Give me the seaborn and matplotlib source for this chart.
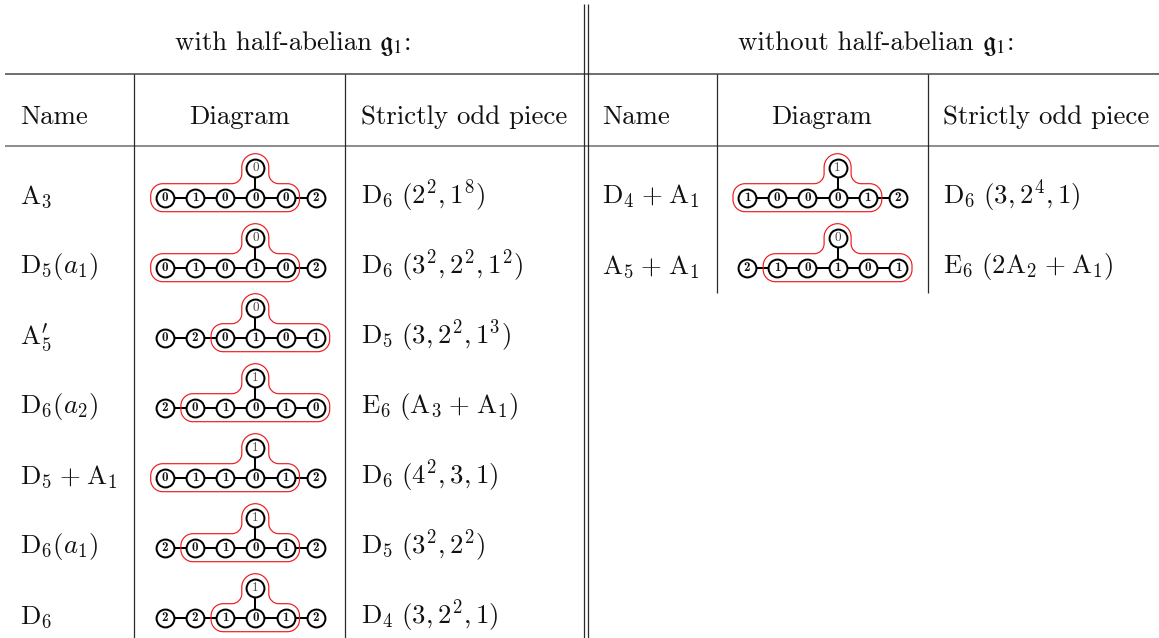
import matplotlib
matplotlib.use("Agg")
import matplotlib.pyplot as plt
from matplotlib.path import Path
from matplotlib.patches import PathPatch
import pandas as pd
import seaborn as sns

# ---- table content ----
header_left = "with half-abelian"
header_right = "without half-abelian"
col_titles = ["Name", "Diagram", "Strictly odd piece"]

names_left = [r"$\mathrm{A}_3$", r"$\mathrm{D}_5(a_1)$", r"$\mathrm{A}_5^{\prime}$", r"$\mathrm{D}_6(a_2)$",
              r"$\mathrm{D}_5\;\mathrm{+}\;\mathrm{A}_1$", r"$\mathrm{D}_6(a_1)$", r"$\mathrm{D}_6$"]
pieces_left = [r"$\mathrm{D}_6\ (2^2,1^8)$", r"$\mathrm{D}_6\ (3^2,2^2,1^2)$", r"$\mathrm{D}_5\ (3,2^2,1^3)$",
               r"$\mathrm{E}_6\ (\mathrm{A}_3\;\mathrm{+}\;\mathrm{A}_1)$", r"$\mathrm{D}_6\ (4^2,3,1)$",
               r"$\mathrm{D}_5\ (3^2,2^2)$", r"$\mathrm{D}_4\ (3,2^2,1)$"]
chain_left = [[0, 1, 0, 0, 0, 2], [0, 1, 0, 1, 0, 2], [0, 2, 0, 1, 0, 1], [2, 0, 1, 0, 1, 0],
              [0, 1, 1, 0, 1, 2], [2, 0, 1, 0, 1, 2], [2, 2, 1, 0, 1, 2]]
top_left = [0, 0, 0, 1, 1, 1, 1]
loop_left = [(0, 4), (0, 4), (2, 5), (1, 5), (0, 4), (1, 4), (2, 4)]

names_right = [r"$\mathrm{D}_4\;\mathrm{+}\;\mathrm{A}_1$", r"$\mathrm{A}_5\;\mathrm{+}\;\mathrm{A}_1$"]
pieces_right = [r"$\mathrm{D}_6\ (3,2^4,1)$", r"$\mathrm{E}_6\ (2\mathrm{A}_2\;\mathrm{+}\;\mathrm{A}_1)$"]
chain_right = [[1, 0, 0, 0, 1, 2], [2, 1, 0, 1, 0, 1]]
top_right = [1, 0]
loop_right = [(0, 4), (1, 5)]

sns.set_theme(style="white")
plt.rcParams["font.family"] = ["cmr10", "DejaVu Sans"]
plt.rcParams["mathtext.fontset"] = "cm"
plt.rcParams["axes.formatter.use_mathtext"] = True

fig = plt.figure(figsize=(11.59, 6.38), dpi=100)
ax = fig.add_axes([0, 0, 1, 1])
ax.set_xlim(0, 1159)
ax.set_ylim(638, 0)
ax.axis("off")

FS = 19.3
ROW0, PITCH, RISE, STEP = 197.7, 70.0, 30.0, 30.2
HGRAY, VDARK = "#6e6e6e", "#2a2a2a"
INK = "#111111"

# rules
ax.hlines([74], 5, 1159, color=HGRAY, lw=1.4)
ax.hlines([145.5], 5, 1159, color=HGRAY, lw=1.1)
ax.vlines([134, 345], 74, 638, color=VDARK, lw=0.9)
ax.vlines([717, 928], 74, 293, color=VDARK, lw=0.9)
ax.vlines([584, 588], 4, 638, color=VDARK, lw=0.9)

# headers
def header(x0, xg, label):
    ax.text(x0, 49.5, label, fontsize=FS, ha="left", va="baseline", color=INK)
    ax.text(xg, 49.5, r"$\mathfrak{g}_1$:", fontsize=FS, ha="left", va="baseline",
            math_fontfamily="stix", color=INK)

header(175, 379, header_left)
header(738, 982, header_right)

for x0, cx, xs in [(20.5, 240, 361), (602.5, 822, 943)]:
    ax.text(x0, 124, col_titles[0], fontsize=FS, ha="left", va="baseline", color=INK)
    ax.text(cx, 124, col_titles[1], fontsize=FS, ha="center", va="baseline", color=INK)
    ax.text(xs, 124, col_titles[2], fontsize=FS, ha="left", va="baseline", color=INK)


def loop_path(xl, xr, xt, ym, ytop):
    hw, cap, fil, rnd = 14.0, 13.5, 10.0, 12.0
    yt, yb, yc = ym - hw, ym + hw, ytop - hw
    corners = [(xl, yt, rnd), (xt - cap, yt, fil), (xt - cap, yc, cap), (xt + cap, yc, cap),
               (xt + cap, yt, fil), (xr, yt, rnd), (xr, yb, rnd), (xl, yb, rnd)]
    verts, codes = [], []
    n = len(corners)
    k = 0.5523
    for i, (x, y, r) in enumerate(corners):
        px, py, _ = corners[i - 1]
        nx, ny, _ = corners[(i + 1) % n]
        d1 = ((x - px) / max(abs(x - px), abs(y - py)), (y - py) / max(abs(x - px), abs(y - py)))
        d2 = ((nx - x) / max(abs(nx - x), abs(ny - y)), (ny - y) / max(abs(nx - x), abs(ny - y)))
        a = (x - d1[0] * r, y - d1[1] * r)
        b = (x + d2[0] * r, y + d2[1] * r)
        verts.append(a)
        codes.append(Path.MOVETO if i == 0 else Path.LINETO)
        verts += [(a[0] + d1[0] * r * k, a[1] + d1[1] * r * k),
                  (b[0] - d2[0] * r * k, b[1] - d2[1] * r * k), b]
        codes += [Path.CURVE4] * 3
    verts.append(verts[0])
    codes.append(Path.CLOSEPOLY)
    return Path(verts, codes)


nodes, bonds = [], []
loops = []
for x_first, chains, tops, spans in [(164.7, chain_left, top_left, loop_left),
                                     (747.0, chain_right, top_right, loop_right)]:
    for r, (chain, top, span) in enumerate(zip(chains, tops, spans)):
        ym = ROW0 + PITCH * r
        xt = x_first + 3 * STEP
        for j, v in enumerate(chain):
            x = x_first + j * STEP
            nodes.append(dict(x=x, y=ym, value=v, top=False))
            if j:
                b = f"{x_first}-{r}-{j}"
                bonds += [dict(x=x - STEP, y=ym, bond=b), dict(x=x, y=ym, bond=b)]
        nodes.append(dict(x=xt, y=ym - RISE, value=top, top=True))
        b = f"{x_first}-{r}-t"
        bonds += [dict(x=xt, y=ym, bond=b), dict(x=xt, y=ym - RISE, bond=b)]
        loops.append(loop_path(x_first + span[0] * STEP - 14, x_first + span[1] * STEP + 14, xt, ym, ym - RISE))

df_nodes = pd.DataFrame(nodes)
df_bonds = pd.DataFrame(bonds)

sns.lineplot(data=df_bonds, x="x", y="y", units="bond", estimator=None, sort=False,
             color="black", lw=1.45, legend=False, ax=ax, zorder=2)
sns.scatterplot(data=df_nodes, x="x", y="y", s=165, facecolor="white", edgecolor="black",
                linewidth=1.45, legend=False, ax=ax, zorder=3)
ax.set_xlabel("")
ax.set_ylabel("")
for p in loops:
    ax.add_patch(PathPatch(p, fill=False, edgecolor="#f01a1a", lw=0.85, zorder=2.5))

for row in df_nodes.itertuples():
    if row.top:
        ax.text(row.x, row.y + 0.2, str(row.value), fontsize=9.5, family="cmr10", color="#444444",
                ha="center", va="center", zorder=4)
    else:
        ax.text(row.x, row.y + 0.2, str(row.value), fontsize=9.5, family="cmb10", color="#111111",
                ha="center", va="center", zorder=4)

for x_name, x_piece, names, pieces in [(20.5, 361, names_left, pieces_left), (602.5, 943, names_right, pieces_right)]:
    for r, (nm, pc) in enumerate(zip(names, pieces)):
        y = ROW0 + 5.8 + PITCH * r
        ax.text(x_name, y, nm, fontsize=FS, ha="left", va="baseline", color=INK)
        ax.text(x_piece, y, pc, fontsize=FS, ha="left", va="baseline", color=INK)

fig.savefig("out.png", dpi=100)
